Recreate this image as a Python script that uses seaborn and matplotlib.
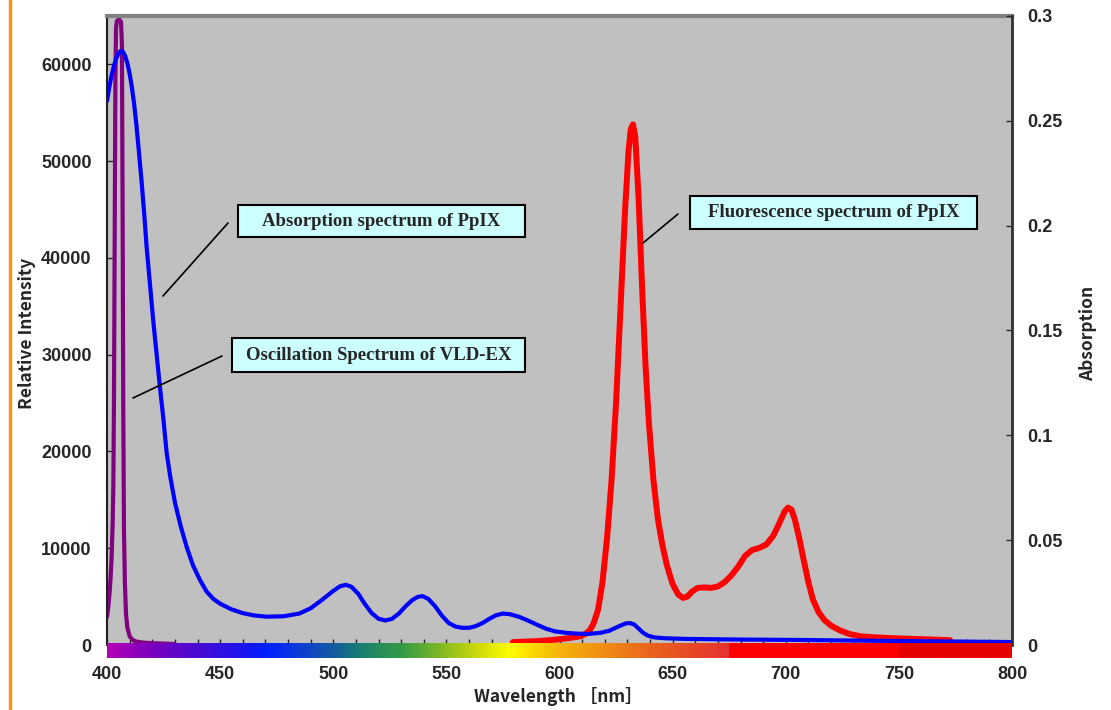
import numpy as np
import matplotlib
matplotlib.use("Agg")
import matplotlib.pyplot as plt
from matplotlib.colors import LinearSegmentedColormap
from matplotlib.lines import Line2D
from matplotlib.patches import Rectangle
import seaborn as sns

sns.set_style("white")
plt.rcParams["font.family"] = ["Liberation Sans", "DejaVu Sans"]
plt.rcParams["font.weight"] = "bold"

# --- data ---
# VLD-EX laser output (left axis, clipped at the top of the chart)
laser_nm = [400.0, 400.5, 401.0, 401.5, 402.0, 402.5, 402.8, 403.1, 403.4, 403.7,
            404.0, 404.4, 405.0, 405.6, 406.2, 406.6, 406.9, 407.2, 407.5, 407.9,
            408.4, 409.0, 410.0, 411.5, 413.0, 416.0, 420.0, 425.0, 430.0]
laser_counts = [2900, 3800, 5000, 6600, 8800, 12500, 16400, 26000, 42000, 58000,
                63800, 64500, 64600, 64600, 64400, 62000, 45000, 24000, 12000, 6500,
                3200, 1800, 900, 500, 350, 250, 180, 150, 100]

# PpIX absorption (right axis)
absorb_nm = [400.0, 401.0, 402.0, 403.0, 404.0, 405.0, 406.0, 407.0, 408.0, 409.0,
             410.0, 411.0, 412.0, 413.0, 414.0, 415.3, 416.5, 417.5, 419.0, 420.5,
             422.0, 423.4, 425.0, 426.4, 428.0, 430.1, 432.5, 435.2, 438.0, 441.1,
             444.0, 447.0, 450.0, 455.0, 460.0, 465.0, 470.6, 478.0, 485.0, 490.0,
             495.0, 500.0, 503.0, 505.5, 508.0, 511.0, 514.0, 517.0, 520.0, 523.0,
             526.0, 529.0, 532.0, 535.0, 537.5, 539.5, 542.0, 545.0, 548.0, 551.0,
             554.0, 557.0, 560.0, 563.0, 566.0, 569.0, 572.0, 575.0, 578.0, 582.0,
             586.0, 590.0, 594.0, 598.0, 603.0, 608.0, 613.0, 618.0, 622.0, 626.0,
             629.0, 631.0, 633.0, 635.0, 637.0, 639.0, 642.0, 647.0, 656.0, 680.0,
             706.0, 750.0, 800.0]
absorb_val = [0.2595, 0.2660, 0.2715, 0.2760, 0.2795, 0.2820, 0.2833, 0.2830, 0.2810, 0.2775,
              0.2725, 0.2660, 0.2580, 0.2480, 0.2365, 0.2210, 0.2050, 0.1900, 0.1720, 0.1540,
              0.1380, 0.1230, 0.1070, 0.0914, 0.0800, 0.0676, 0.0570, 0.0468, 0.0380, 0.0310,
              0.0255, 0.0220, 0.0197, 0.0170, 0.0152, 0.0141, 0.0135, 0.0137, 0.0150, 0.0175,
              0.0215, 0.0258, 0.0280, 0.0287, 0.0278, 0.0245, 0.0195, 0.0152, 0.0125, 0.0117,
              0.0125, 0.0150, 0.0185, 0.0215, 0.0230, 0.0233, 0.0220, 0.0185, 0.0140, 0.0105,
              0.0088, 0.0082, 0.0082, 0.0090, 0.0105, 0.0125, 0.0142, 0.0150, 0.0147, 0.0135,
              0.0117, 0.0097, 0.0078, 0.0065, 0.0058, 0.0054, 0.0053, 0.0058, 0.0068, 0.0088,
              0.0102, 0.0105, 0.0098, 0.0078, 0.0058, 0.0045, 0.0036, 0.0032, 0.0029, 0.0026,
              0.0024, 0.0019, 0.0014]

# PpIX fluorescence (left axis)
fluor_nm = [579.4, 585.0, 590.0, 595.8, 602.0, 606.0, 609.1, 611.5, 613.5, 615.0,
            617.0, 619.0, 621.0, 623.0, 625.0, 627.0, 629.0, 630.5, 631.5, 632.5,
            633.5, 635.0, 636.5, 638.0, 639.5, 641.5, 643.5, 645.5, 647.5, 650.0,
            652.5, 654.6, 656.5, 658.5, 661.0, 664.0, 667.0, 670.0, 673.0, 676.0,
            679.0, 682.0, 685.0, 688.5, 691.5, 694.5, 697.0, 699.5, 701.0, 702.5,
            704.0, 706.0, 708.0, 710.0, 712.0, 714.5, 717.0, 720.0, 724.0, 728.0,
            733.0, 740.0, 750.0, 760.0, 772.6]
fluor_counts = [300, 350, 400, 500, 650, 780, 900, 1150, 1550, 2200,
                3600, 6500, 11000, 17000, 25000, 35000, 45000, 51000, 53300, 53800,
                52500, 46000, 37000, 29000, 23000, 17100, 13000, 10300, 8200, 6300,
                5200, 4870, 5000, 5500, 5900, 5950, 5900, 6050, 6500, 7200,
                8100, 9200, 9800, 10050, 10400, 11300, 12500, 13800, 14200, 14000,
                13000, 11000, 8700, 6500, 4700, 3400, 2600, 2000, 1500, 1150,
                900, 780, 680, 600, 500]

x_ticks = [400, 450, 500, 550, 600, 650, 700, 750, 800]
left_ticks = [0, 10000, 20000, 30000, 40000, 50000, 60000]
right_ticks = [0, 0.05, 0.1, 0.15, 0.2, 0.25, 0.3]
right_labels = ["0", "0.05", "0.1", "0.15", "0.2", "0.25", "0.3"]

# colour strip under the wavelength axis
strip_nm = [400, 420, 440, 460, 470, 480, 500, 510, 520, 530, 550, 565, 578,
            590, 600, 620, 640, 660, 675, 675.1, 750, 750.1, 800]
strip_colors = ["#b400b4", "#7800be", "#4a0ad2", "#1a14f0", "#0020ff", "#0a32e6",
                "#145aa0", "#147a78", "#288c5a", "#329a46", "#8cbe1e", "#d2dc0a",
                "#ffff00", "#fad200", "#f5b40a", "#f08c14", "#eb641e", "#e64628",
                "#e63232", "#ff0000", "#ff0000", "#e60000", "#e60000"]

W, H = 1111, 710


def fx(x):
    return x / W


def fy(y):
    return 1 - y / H


fig = plt.figure(figsize=(W / 100, H / 100), dpi=100)

ax = fig.add_axes([fx(107), fy(645), fx(1012) - fx(107), fy(16) - fy(645)])
ax.set_facecolor("#c0c0c0")

sns.lineplot(x=laser_nm, y=laser_counts, ax=ax, color="#800080", linewidth=3,
             sort=False, estimator=None)
sns.lineplot(x=fluor_nm, y=fluor_counts, ax=ax, color="#ff0000", linewidth=4.3,
             sort=False, estimator=None)
ax.set_xlim(400, 800)
ax.set_ylim(0, 65000)
ax.set_yticks(left_ticks)
ax.set_xticks(np.arange(400, 801, 10))
ax.tick_params(axis="x", bottom=True, direction="in", length=4.5, width=1,
               labelbottom=False)
ax.tick_params(axis="y", left=True, direction="in", length=4, width=1,
               pad=11, labelsize=13)
ax.set_xlabel("")
ax.set_ylabel("")

ax2 = ax.twinx()
sns.lineplot(x=absorb_nm, y=absorb_val, ax=ax2, color="#0000ff", linewidth=3,
             sort=False, estimator=None)
ax2.set_ylim(0, 0.3)
ax2.set_xlim(400, 800)
ax2.set_yticks(right_ticks)
ax2.set_yticklabels(right_labels)
ax2.tick_params(axis="y", right=True, direction="in", length=4, width=1,
                pad=11, labelsize=13)
ax2.set_ylabel("")

for s in ["bottom", "right"]:
    ax.spines[s].set_visible(False)
ax.spines["left"].set_color("#202020")
ax.spines["left"].set_linewidth(1.5)
ax.spines["top"].set_color("#808080")
ax.spines["top"].set_linewidth(3)
for s in ["bottom", "left", "top"]:
    ax2.spines[s].set_visible(False)
ax2.spines["right"].set_color("#303030")
ax2.spines["right"].set_linewidth(2)

# spectrum strip with the wavelength labels
sax = fig.add_axes([fx(107), fy(658), fx(1012) - fx(107), fy(643) - fy(658)])
pos = [(n - 400) / 400 for n in strip_nm]
cmap = LinearSegmentedColormap.from_list("spec", list(zip(pos, strip_colors)), N=2048)
sax.imshow(np.linspace(400, 800, 2000)[None, :], cmap=cmap, aspect="auto",
           extent=[400, 800, 0, 1], vmin=400, vmax=800)
sax.set_xlim(400, 800)
sax.set_yticks([])
sax.set_xticks(x_ticks)
sax.tick_params(axis="x", bottom=True, length=0, pad=6, labelsize=13)
for s in sax.spines.values():
    s.set_visible(False)

# axis titles
cjk = ["Noto Sans CJK JP", "DejaVu Sans"]
fig.text(fx(558), fy(697), "Wavelength ［nm］", ha="center", va="center",
         fontsize=12.5, family=cjk, weight="bold")
fig.text(fx(27), fy(333), "Relative Intensity", ha="center", va="center",
         rotation=90, fontsize=12.5, family=cjk, weight="bold")
fig.text(fx(1088), fy(333), "Absorption", ha="center", va="center",
         rotation=90, fontsize=12.5, family=cjk, weight="bold")

# callout boxes
boxes = [
    ("Absorption spectrum of PpIX", 238, 205, 525, 237, (228, 223), (163, 296)),
    ("Oscillation Spectrum of VLD-EX", 232, 338, 525, 372, (222, 356), (133, 398)),
    ("Fluorescence spectrum of PpIX", 690, 196, 977, 229, (678, 214), (643, 243)),
]
for label, x0, y0, x1, y1, p0, p1 in boxes:
    fig.add_artist(Rectangle((fx(x0), fy(y1)), fx(x1) - fx(x0), fy(y0) - fy(y1),
                             transform=fig.transFigure, facecolor="#ccffff",
                             edgecolor="black", linewidth=1.5, zorder=5))
    fig.text(fx((x0 + x1) / 2), fy((y0 + y1) / 2), label, ha="center", va="center",
             fontsize=13.5, family=["Liberation Serif"], weight="bold", zorder=6)
    fig.add_artist(Line2D([fx(p0[0]), fx(p1[0])], [fy(p0[1]), fy(p1[1])],
                          transform=fig.transFigure, color="black", linewidth=1.2,
                          zorder=5))

# orange page border on the left
fig.add_artist(Line2D([fx(10), fx(10)], [0, 1], transform=fig.transFigure,
                      color="#f7941e", linewidth=2.5))

fig.savefig("out.png", dpi=100, facecolor="white")
